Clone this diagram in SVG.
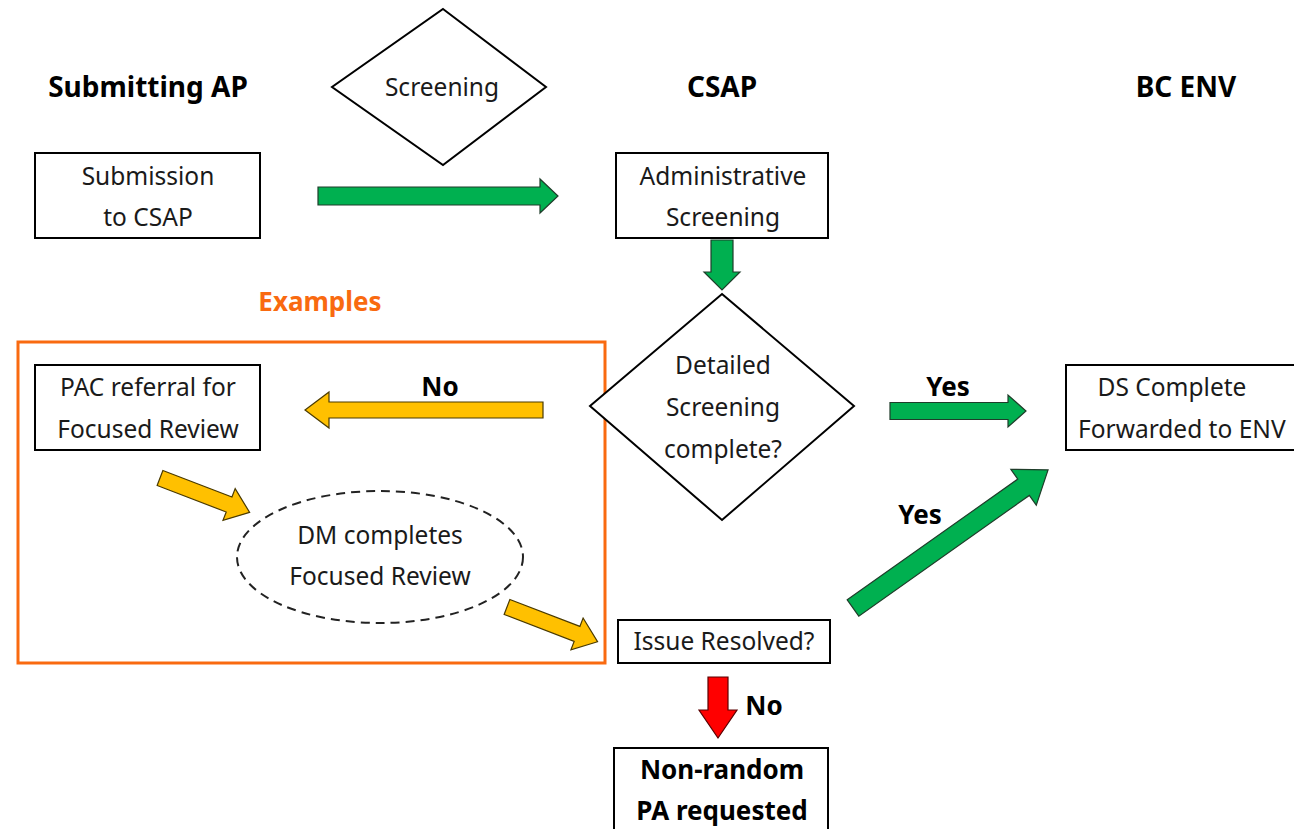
<svg xmlns="http://www.w3.org/2000/svg" width="1294" height="829" viewBox="0 0 1294 829">
<style>
.t{font-family:"Noto Sans","Open Sans",sans-serif;font-size:24.5px;fill:#1a1a1a;text-anchor:middle}
.b{font-family:"Noto Sans","Open Sans",sans-serif;font-size:26px;font-weight:bold;fill:#000;text-anchor:middle}
.h{font-size:28px}
.box{fill:#fff;stroke:#000;stroke-width:2}
.g{fill:#00B050;stroke:#1f3d2a;stroke-width:1.2}
.y{fill:#FFC000;stroke:#4a3a00;stroke-width:1.2}
.r{fill:#FF0000;stroke:#5a0000;stroke-width:1.2}
</style>
<rect width="1294" height="829" fill="#fff"/>
<g id="headers">
<text class="b h" x="148" y="97">Submitting AP</text>
<text class="b h" x="722" y="97">CSAP</text>
<text class="b h" x="1186" y="97">BC ENV</text>
</g>
<g id="examples">
<rect x="18" y="342" width="587" height="321" fill="none" stroke="#F96A10" stroke-width="3"/>
<text class="b" x="320" y="311" style="fill:#F96A10">Examples</text>
</g>
<g id="screening">
<polygon class="box" points="443,9 546,87 443,165 332,87"/>
<text class="t" x="442" y="96">Screening</text>
</g>
<g id="submission">
<rect class="box" x="35" y="153" width="225" height="85"/>
<text class="t" x="148" y="185">Submission</text>
<text class="t" x="148" y="226">to CSAP</text>
</g>
<g id="admin">
<rect class="box" x="616" y="153" width="212" height="85"/>
<text class="t" x="723" y="185">Administrative</text>
<text class="t" x="723" y="226">Screening</text>
</g>
<g id="detailed">
<polygon class="box" points="722,294 854,406 722,520 590,406"/>
<text class="t" x="723" y="374">Detailed</text>
<text class="t" x="723" y="416">Screening</text>
<text class="t" x="723" y="458">complete?</text>
</g>
<g id="pac">
<rect class="box" x="35" y="365" width="225" height="85"/>
<text class="t" x="148" y="396">PAC referral for</text>
<text class="t" x="148" y="438">Focused Review</text>
</g>
<g id="dsComplete">
<rect class="box" x="1066" y="365" width="240" height="85"/>
<text class="t" x="1172" y="396">DS Complete</text>
<text class="t" x="1078" y="438" style="text-anchor:start">Forwarded to ENV</text>
</g>
<g id="dm">
<ellipse cx="380" cy="557" rx="143" ry="66" fill="#fff" stroke="#222" stroke-width="2" stroke-dasharray="9,6"/>
<text class="t" x="380" y="544">DM completes</text>
<text class="t" x="380" y="585">Focused Review</text>
</g>
<g id="issue">
<rect class="box" x="618" y="620" width="212" height="43"/>
<text class="t" x="724" y="650">Issue Resolved?</text>
</g>
<g id="nonrandom">
<rect class="box" x="614" y="748" width="214" height="95"/>
<text class="b" x="722" y="779">Non-random</text>
<text class="b" x="722" y="820">PA requested</text>
</g>
<g id="connectors">
<polygon class="g" transform="translate(318,196)" points="0,-9 222,-9 222,-17 240,0 222,17 222,9 0,9"/>
<polygon class="g" transform="translate(722,240) rotate(90)" points="0,-11 32,-11 32,-18 50,0 32,18 32,11 0,11"/>
<polygon class="y" transform="translate(543,410) rotate(180)" points="0,-8 214,-8 214,-18 238,0 214,18 214,8 0,8"/>
<text class="b" x="440" y="396">No</text>
<polygon class="g" transform="translate(890,411)" points="0,-8.5 118,-8.5 118,-16 136,0 118,16 118,8.5 0,8.5"/>
<text class="b" x="948" y="396">Yes</text>
<polygon class="y" transform="translate(160,478) rotate(21)" points="0,-8 74,-8 74,-17 96,0 74,17 74,8 0,8"/>
<polygon class="y" transform="translate(507,607) rotate(21)" points="0,-8 75,-8 75,-17 97,0 75,17 75,8 0,8"/>
<polygon class="g" transform="translate(853,608) rotate(-35.3)" points="0,-10 209,-10 209,-22 239,0 209,22 209,10 0,10"/>
<text class="b" x="920" y="524">Yes</text>
<polygon class="r" transform="translate(718,677) rotate(90)" points="0,-10 33,-10 33,-19 61,0 33,19 33,10 0,10"/>
<text class="b" x="764" y="715">No</text>
</g>
</svg>
